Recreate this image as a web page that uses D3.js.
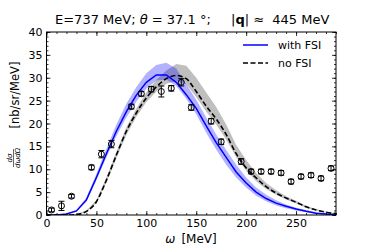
<!DOCTYPE html>
<html>
<head>
<meta charset="utf-8">
<script src="https://cdn.jsdelivr.net/npm/d3@7"></script>
<style>
  body { margin: 0; background: #fff; }
  text { font-family: "DejaVu Sans", sans-serif; }
</style>
</head>
<body>
<svg id="chart" width="374" height="249"></svg>
<script>
// theory grid (omega, MeV)
var omega = [0,10,20,30,40,50,60,70,80,90,100,110,120,130,140,150,160,170,180,190,200,210,220,230,240,250,260,270,280,290];
// with FSI (blue) and its band
var withFSI = [0,0,0.2,0.9,3.3,8.2,13.4,18.3,22.6,26.2,29.0,30.6,30.6,29.0,26.3,23.3,19.5,15.8,12.6,9.4,7.0,5.0,3.6,2.6,1.9,1.3,0.8,0.4,0.2,0.1];
var withLo = [0,0,0.1,0.7,2.9,7.6,12.6,17.2,21.3,24.8,27.6,29.4,29.6,28.2,25.4,22.0,18.0,14.3,11.0,8.2,6.0,4.2,3.0,2.1,1.5,1.0,0.6,0.3,0.1,0.05];
var withHi = [0,0,0.3,1.1,3.8,9.0,14.5,19.8,24.3,28.0,31.0,32.8,33.3,32.0,28.6,25.2,21.3,17.6,14.2,11.0,8.2,6.0,4.4,3.2,2.3,1.6,1.1,0.6,0.3,0.15];
// no FSI (dashed) and its band
var noFSI = [0,0,0,0.1,0.8,2.9,7.6,13.1,18.3,22.3,25.6,28.0,29.8,30.5,29.8,27.0,23.8,21.0,17.6,13.4,10.3,8.1,6.2,4.8,3.7,2.8,1.8,1.1,0.6,0.3];
var noLo = [0,0,0,0.05,0.6,2.6,7.1,12.4,17.5,21.5,24.7,27.0,28.7,29.3,28.6,25.8,22.6,19.8,16.5,12.6,9.7,7.4,5.7,4.4,3.4,2.5,1.6,1.0,0.5,0.2];
var noHi = [0,0,0,0.15,1.0,3.3,8.2,13.8,19.2,23.3,26.8,29.5,31.6,33.0,32.6,30.0,26.8,23.6,19.8,15.3,12.0,9.2,7.0,5.4,4.1,3.1,2.0,1.3,0.7,0.4];
// experimental data
var expOmega = [5,15,25,45,55,65,85,95,105,115,125,135,145,165,175,195,205,215,225,235,245,255,265,275,285];
var expVal = [1.1,2.0,4.1,10.4,13.3,15.5,23.7,26.5,27.5,27.0,27.7,29.0,23.5,20.5,16.0,11.7,9.5,9.5,9.5,9.2,7.3,8.4,8.7,8.0,10.2];
var expErr = [0.4,1.0,0.4,0.5,0.8,0.8,0.5,0.5,0.6,1.2,0.6,0.8,0.6,0.6,0.6,0.6,0.5,0.5,0.5,0.5,0.5,0.5,0.5,0.5,0.5];
var xTicks = [0,50,100,150,200,250];
var yTicks = [0,5,10,15,20,25,30,35,40];

var margin = {left: 46.5, right: 38, top: 32, bottom: 34};
var W = 374, H = 249;
var svg = d3.select('#chart');

var x = d3.scaleLinear().domain([0, 290]).range([margin.left, W - margin.right]);
var y = d3.scaleLinear().domain([0, 40]).range([H - margin.bottom, margin.top]);

var curve = omega.map(function(o, i) {
    return {o: o, w: withFSI[i], wl: withLo[i], wh: withHi[i], n: noFSI[i], nl: noLo[i], nh: noHi[i]};
});

svg.append('clipPath').attr('id', 'clip')
    .append('rect')
    .attr('x', x(0)).attr('y', y(40))
    .attr('width', x(290) - x(0)).attr('height', y(0) - y(40));

var plot = svg.append('g').attr('clip-path', 'url(#clip)');

// bands
plot.append('path')
    .datum(curve)
    .attr('fill', '#808080')
    .attr('fill-opacity', 0.5)
    .attr('d', d3.area().x(function(d) { return x(d.o); }).y0(function(d) { return y(d.nl); }).y1(function(d) { return y(d.nh); }));

plot.append('path')
    .datum(curve)
    .attr('fill', '#0000ff')
    .attr('fill-opacity', 0.3)
    .attr('d', d3.area().x(function(d) { return x(d.o); }).y0(function(d) { return y(d.wl); }).y1(function(d) { return y(d.wh); }));

// lines
plot.append('path')
    .datum(curve)
    .attr('fill', 'none')
    .attr('stroke', '#0000ff')
    .attr('stroke-width', 1.5)
    .attr('d', d3.line().x(function(d) { return x(d.o); }).y(function(d) { return y(d.w); }));

plot.append('path')
    .datum(curve)
    .attr('fill', 'none')
    .attr('stroke', '#000')
    .attr('stroke-width', 1.6)
    .attr('stroke-dasharray', '5,2.5')
    .attr('d', d3.line().curve(d3.curveMonotoneX).x(function(d) { return x(d.o); }).y(function(d) { return y(d.n); }));

// experimental points
var pts = expOmega.map(function(o, i) { return {o: o, v: expVal[i], e: expErr[i]}; });
var pg = plot.selectAll('.pt').data(pts).enter().append('g').attr('class', 'pt');
pg.append('line')
    .attr('x1', function(d) { return x(d.o); }).attr('x2', function(d) { return x(d.o); })
    .attr('y1', function(d) { return y(d.v - d.e); }).attr('y2', function(d) { return y(d.v + d.e); })
    .attr('stroke', '#000').attr('stroke-width', 1);
[-1, 1].forEach(function(s) {
    pg.append('line')
        .attr('x1', function(d) { return x(d.o) - 3; }).attr('x2', function(d) { return x(d.o) + 3; })
        .attr('y1', function(d) { return y(d.v + s * d.e); }).attr('y2', function(d) { return y(d.v + s * d.e); })
        .attr('stroke', '#000').attr('stroke-width', 1);
});
pg.append('circle')
    .attr('cx', function(d) { return x(d.o); })
    .attr('cy', function(d) { return y(d.v); })
    .attr('r', 3)
    .attr('fill', 'none')
    .attr('stroke', '#000')
    .attr('stroke-width', 1);

// axes: ticks inside on all sides
var xMinor = d3.range(0, 291, 10);
var yMinor = d3.range(0, 41, 1);
function axisStyle(g) {
    g.select('.domain').remove();
    g.selectAll('line').attr('stroke', '#000').attr('stroke-width', 0.8);
    g.selectAll('text').attr('font-size', '11px').attr('fill', '#000');
}
svg.append('g').attr('transform', 'translate(0,' + y(0) + ')')
    .call(d3.axisBottom(x).tickValues(xMinor).tickSize(-2).tickFormat(''))
    .call(axisStyle);
svg.append('g').attr('transform', 'translate(0,' + y(0) + ')')
    .call(d3.axisBottom(x).tickValues(xTicks).tickSize(-4).tickPadding(4).tickFormat(d3.format('d')))
    .call(axisStyle);
svg.append('g').attr('transform', 'translate(0,' + y(40) + ')')
    .call(d3.axisTop(x).tickValues(xMinor).tickSize(-2).tickFormat(''))
    .call(axisStyle);
svg.append('g').attr('transform', 'translate(0,' + y(40) + ')')
    .call(d3.axisTop(x).tickValues(xTicks).tickSize(-4).tickFormat(''))
    .call(axisStyle);
svg.append('g').attr('transform', 'translate(' + x(0) + ',0)')
    .call(d3.axisLeft(y).tickValues(yMinor).tickSize(-2).tickFormat(''))
    .call(axisStyle);
svg.append('g').attr('transform', 'translate(' + x(0) + ',0)')
    .call(d3.axisLeft(y).tickValues(yTicks).tickSize(-4).tickPadding(4).tickFormat(d3.format('d')))
    .call(axisStyle);
svg.append('g').attr('transform', 'translate(' + x(290) + ',0)')
    .call(d3.axisRight(y).tickValues(yMinor).tickSize(-2).tickFormat(''))
    .call(axisStyle);
svg.append('g').attr('transform', 'translate(' + x(290) + ',0)')
    .call(d3.axisRight(y).tickValues(yTicks).tickSize(-4).tickFormat(''))
    .call(axisStyle);

// frame
svg.append('rect')
    .attr('x', x(0)).attr('y', y(40))
    .attr('width', x(290) - x(0)).attr('height', y(0) - y(40))
    .attr('fill', 'none').attr('stroke', '#000').attr('stroke-width', 1);

// legend
var lg = svg.append('g');
lg.append('line').attr('x1', 243).attr('x2', 268).attr('y1', 45).attr('y2', 45)
    .attr('stroke', '#0000ff').attr('stroke-width', 1.5);
lg.append('text').attr('x', 278).attr('y', 49).attr('font-size', '11px').text('with FSI');
lg.append('line').attr('x1', 243).attr('x2', 268).attr('y1', 63).attr('y2', 63)
    .attr('stroke', '#000').attr('stroke-width', 1.6).attr('stroke-dasharray', '5,2.5');
lg.append('text').attr('x', 278).attr('y', 67).attr('font-size', '11px').text('no FSI');

// title
var title = svg.append('text').attr('x', 55).attr('y', 24).attr('font-size', '13px');
title.append('tspan').text('E=737 MeV; ');
title.append('tspan').attr('font-style', 'italic').text('θ');
title.append('tspan').text(' = 37.1 °;');
var title2 = svg.append('text').attr('x', 231).attr('y', 24).attr('font-size', '13px');
title2.append('tspan').text('|');
title2.append('tspan').attr('font-weight', 'bold').text('q');
title2.append('tspan').text('| ≈ ');
title2.append('tspan').attr('dx', 4).text('445 MeV');

// x label
var xl = svg.append('text').attr('x', 191).attr('y', 243).attr('text-anchor', 'middle').attr('font-size', '12px');
xl.append('tspan').attr('font-style', 'italic').text('ω');
xl.append('tspan').attr('dx', 6).text('[MeV]');

// y label
var yl = svg.append('g').attr('transform', 'translate(15,118) rotate(-90)');
yl.append('text').attr('x', 23).attr('y', 4).attr('text-anchor', 'middle').attr('font-size', '11.5px').text('[nb/sr/MeV]');
yl.append('text').attr('x', -40).attr('y', -3).attr('text-anchor', 'middle').attr('font-size', '7px').attr('font-style', 'italic').text('dσ');
yl.append('line').attr('x1', -49).attr('x2', -31).attr('y1', -1.5).attr('y2', -1.5).attr('stroke', '#000').attr('stroke-width', 0.6);
yl.append('text').attr('x', -40).attr('y', 5).attr('text-anchor', 'middle').attr('font-size', '7px').attr('font-style', 'italic').text('dωdΩ');
</script>
</body>
</html>
